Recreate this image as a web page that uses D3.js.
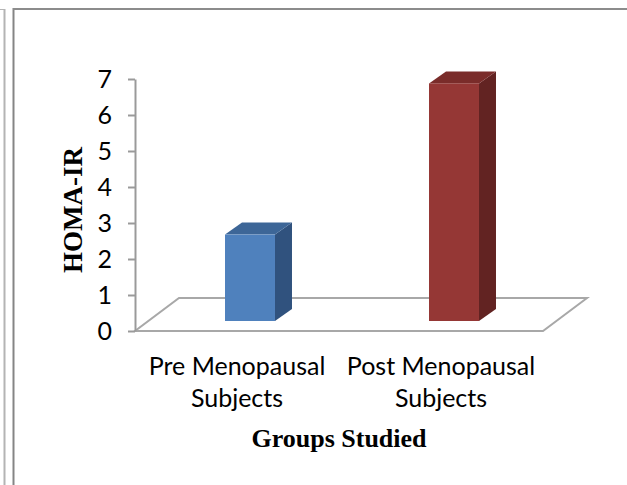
<!DOCTYPE html>
<html>
<head>
<meta charset="utf-8">
<script src="https://cdn.jsdelivr.net/npm/d3@7"></script>
<style>
  body { margin: 0; background: #fff; }
</style>
</head>
<body>
<script>
// chart values
var categories = ["Pre Menopausal Subjects", "Post Menopausal Subjects"];
var labelLines = [["Pre Menopausal", "Subjects"], ["Post Menopausal", "Subjects"]];
var homaValues = [2.4, 6.6];
var yTicks = [0, 1, 2, 3, 4, 5, 6, 7];

// bar faces
var frontColors = ["#4f81bd", "#953735"];
var topColors = ["#3d6697", "#7a2c2a"];
var sideColors = ["#30527e", "#622322"];

var chart = { width: 627, height: 485, left: 135, right: 543, bottom: 331, top: 79 };
var floorDepth = { dx: 44, dy: -33 };
var barFront = { dx: 13, dy: -10 };
var barDepth = { dx: 17, dy: -12 };

var svg = d3.select("body").append("svg")
  .attr("width", chart.width)
  .attr("height", chart.height);

// page frame lines
svg.append("line").attr("x1", 4.5).attr("x2", 4.5).attr("y1", 9).attr("y2", chart.height)
  .attr("stroke", "#b4b4b4").attr("stroke-width", 2);
svg.append("line").attr("x1", 0).attr("x2", 5).attr("y1", 9.5).attr("y2", 9.5)
  .attr("stroke", "#b4b4b4").attr("stroke-width", 1);
svg.append("line").attr("x1", 13.5).attr("x2", 13.5).attr("y1", 8).attr("y2", chart.height)
  .attr("stroke", "#858585").attr("stroke-width", 2);
svg.append("line").attr("x1", 13).attr("x2", chart.width).attr("y1", 9).attr("y2", 9)
  .attr("stroke", "#8c8c8c").attr("stroke-width", 2);

var x = d3.scaleBand()
  .domain(categories)
  .range([chart.left, chart.right])
  .paddingInner(0.755)
  .paddingOuter(0.3775);

var y = d3.scaleLinear()
  .domain([0, 7])
  .range([chart.bottom, chart.top]);

// floor
var floorPts = [
  [chart.left, y(0)],
  [chart.right, y(0)],
  [chart.right + floorDepth.dx, y(0) + floorDepth.dy],
  [chart.left + floorDepth.dx, y(0) + floorDepth.dy]
];
svg.append("path")
  .attr("d", d3.line()(floorPts) + "Z")
  .attr("fill", "none")
  .attr("stroke", "#a8a8a8")
  .attr("stroke-width", 2);

// y axis
var yAxis = svg.append("g")
  .attr("transform", "translate(" + chart.left + ",0)")
  .call(d3.axisLeft(y).tickValues(yTicks).tickFormat(d3.format("d"))
    .tickSize(7).tickSizeOuter(0).tickPadding(16));
yAxis.select(".domain").attr("stroke", "#9a9a9a").attr("stroke-width", 2);
yAxis.selectAll(".tick line").attr("stroke", "#9a9a9a").attr("stroke-width", 2);
yAxis.selectAll(".tick text")
  .attr("fill", "#000")
  .style("font-family", "Lato, 'Open Sans', sans-serif")
  .style("font-size", "25px");

// bars
var bars = svg.selectAll(".bar").data(homaValues)
  .enter().append("g")
  .attr("class", "bar");

function barGeom(d, i) {
  var x0 = x(categories[i]) + barFront.dx;
  var x1 = x0 + x.bandwidth();
  var yt = y(d) + barFront.dy;
  var yb = y(0) + barFront.dy;
  return { x0: x0, x1: x1, yt: yt, yb: yb };
}

bars.append("path")
  .attr("d", function(d, i) {
    var g = barGeom(d, i);
    return d3.line()([[g.x1, g.yt], [g.x1 + barDepth.dx, g.yt + barDepth.dy],
      [g.x1 + barDepth.dx, g.yb + barDepth.dy], [g.x1, g.yb]]) + "Z";
  })
  .attr("fill", function(d, i) { return sideColors[i]; });

bars.append("path")
  .attr("d", function(d, i) {
    var g = barGeom(d, i);
    return d3.line()([[g.x0, g.yt], [g.x1, g.yt], [g.x1 + barDepth.dx, g.yt + barDepth.dy],
      [g.x0 + barDepth.dx, g.yt + barDepth.dy]]) + "Z";
  })
  .attr("fill", function(d, i) { return topColors[i]; });

bars.append("rect")
  .attr("x", function(d, i) { return barGeom(d, i).x0; })
  .attr("y", function(d, i) { return barGeom(d, i).yt; })
  .attr("width", x.bandwidth())
  .attr("height", function(d, i) { var g = barGeom(d, i); return g.yb - g.yt; })
  .attr("fill", function(d, i) { return frontColors[i]; });

// category labels
var catLabels = svg.selectAll(".cat").data(categories)
  .enter().append("text")
  .attr("class", "cat")
  .attr("text-anchor", "middle")
  .style("font-family", "Lato, 'Open Sans', sans-serif")
  .style("font-size", "25px")
  .attr("fill", "#000");
catLabels.selectAll("tspan").data(function(d, i) { return labelLines[i]; })
  .enter().append("tspan")
  .attr("x", function() { var c = d3.select(this.parentNode).datum(); return x(c) + x.bandwidth() / 2; })
  .attr("y", function(d, j) { return 375 + j * 32; })
  .text(function(d) { return d; });

// axis titles
svg.append("text")
  .attr("text-anchor", "middle")
  .attr("transform", "translate(82,210) rotate(-90)")
  .style("font-family", "'Liberation Serif', 'Times New Roman', serif")
  .style("font-weight", "bold")
  .style("font-size", "27px")
  .text("HOMA-IR");

svg.append("text")
  .attr("text-anchor", "middle")
  .attr("x", (chart.left + chart.right) / 2)
  .attr("y", 447)
  .style("font-family", "'Liberation Serif', 'Times New Roman', serif")
  .style("font-weight", "bold")
  .style("font-size", "26px")
  .text("Groups Studied");
</script>
</body>
</html>
